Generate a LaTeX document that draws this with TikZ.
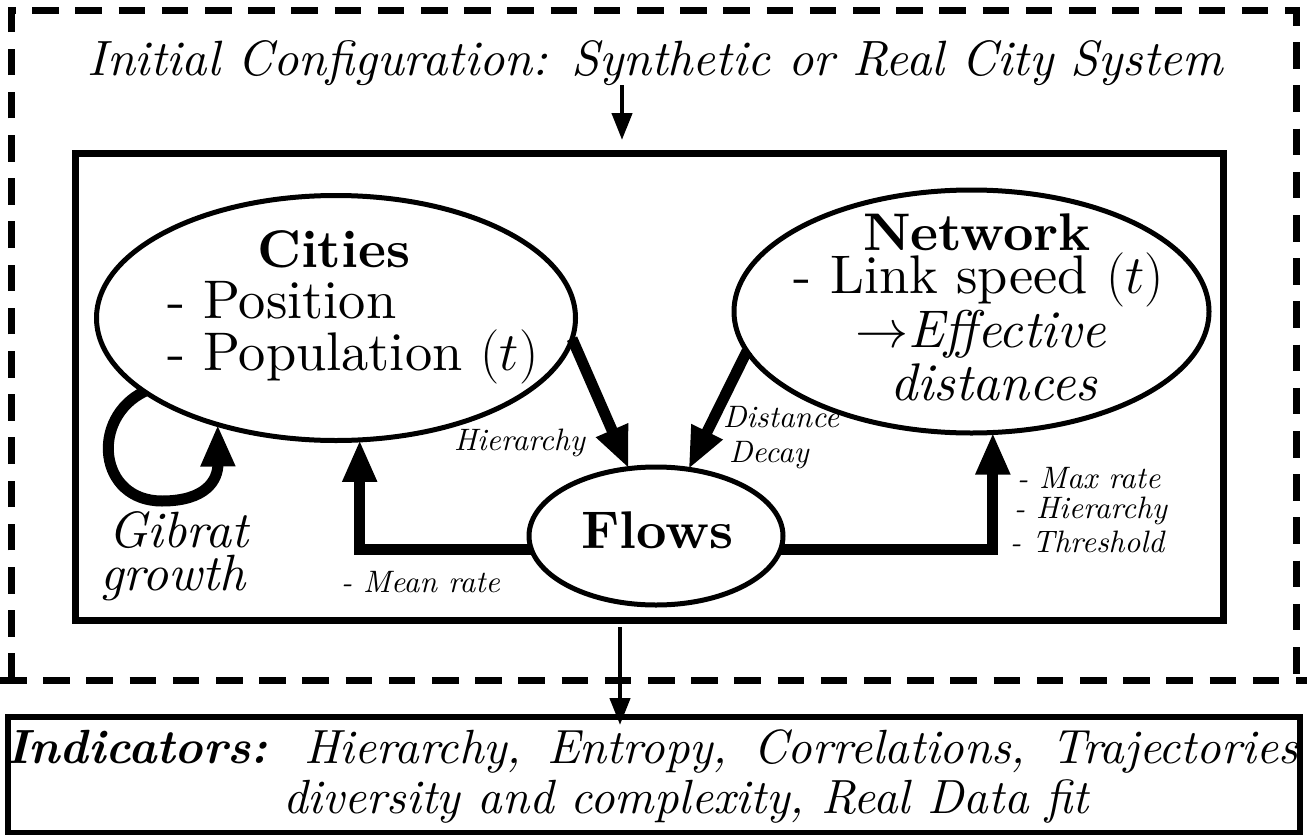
\documentclass[tikz,border=0pt]{standalone}
\usepackage{fix-cm}
\usepackage{fontspec}
\setmainfont{lmroman10}[Extension=.otf,UprightFont=*-regular,BoldFont=*-bold,ItalicFont=*-italic,BoldItalicFont=*-bolditalic]
\usetikzlibrary{arrows.meta,shapes.geometric}
\begin{document}
\begin{tikzpicture}[x=0.5pt,y=-0.5pt,
  ell/.style={ellipse,draw,line width=2.5pt,inner sep=0pt,outer sep=0pt},
  txt/.style={inner sep=0pt,outer sep=0pt,anchor=base west},
  bigtxt/.style={txt,font=\fontsize{26.5}{30}\selectfont},
  bigtxtb/.style={txt,font=\fontsize{27.2}{30}\selectfont},
  midtxt/.style={txt,font=\fontsize{25.5}{30}\selectfont\itshape},
  smalltxt/.style={txt,font=\fontsize{15.5}{18}\selectfont\itshape},
  indtxt/.style={txt,font=\fontsize{24}{30}\selectfont\itshape},
  flowarrow/.style={line width=5.5pt,-{Triangle[length=21pt,width=16pt]}},
  thinarrow/.style={line width=2.2pt,-{Triangle[length=13.5pt,width=10pt]}},
  dashline/.style={line width=3.5pt,dash pattern=on 13.3pt off 8.3pt},
  boxline/.style={draw,inner sep=0pt,outer sep=0pt}]
\useasboundingbox (0,0) rectangle (1307,835);
% outer dashed frame
\draw[dashline] (11,680) -- (11,10) -- (1296,10) -- (1296,680);
\draw[dashline] (0,680) -- (1307,680);
% title
\node[txt,anchor=base,font=\fontsize{24.8}{30}\selectfont\itshape] (title) at (655.5,75) {Initial Configuration: Synthetic or Real City System};
% inner frame
\node[boxline,line width=3.5pt,minimum width=574pt,minimum height=233.5pt] (frame) at (649,386.5) {};
% ellipses
\node[ell,minimum width=239.5pt,minimum height=122.5pt] (cities) at (336,318) {};
\node[ell,minimum width=237.5pt,minimum height=121.5pt] (network) at (971.5,311.5) {};
\node[ell,minimum width=127pt,minimum height=69pt] (flows) at (656,536) {};
% ellipse texts
\node[bigtxt] (citiesT) at (257,267) {\textbf{Cities}};
\node[bigtxtb] (pos) at (167,318) {- Position};
\node[bigtxtb] (pop) at (167,370) {- Population $(t)$};
\node[bigtxt,anchor=base] (netT) at (977,250) {\textbf{Network}};
\node[bigtxtb,anchor=base] (speed) at (979,293) {- Link speed $(t)$};
\node[bigtxt,anchor=base] (eff) at (981,347) {$\rightarrow$\textit{Effective}};
\node[bigtxt,anchor=base] (dist) at (994,400) {\textit{distances}};
\node[bigtxt,anchor=base] (flowT) at (657.5,548) {\textbf{Flows}};
% connectors
\draw[flowarrow] (cities.-5.9) -- (flows.112);
\draw[flowarrow] (network.190) -- (flows.64);
\draw[flowarrow] (flows.186.4) -| (cities.-79.8);
\draw[flowarrow] (flows.-6.4) -| (network.-80.85);
\draw[flowarrow] (cities.201) .. controls (90,418) and (98,501) .. (162,501)
  .. controls (206,501) and (218,480) .. (cities.222);
% labels
\node[smalltxt] (hier) at (454,450) {Hierarchy};
\node[smalltxt] (dd1) at (723,427) {Distance};
\node[smalltxt] (dd2) at (729,462) {Decay};
\node[smalltxt] (mr) at (1017,488) {- Max rate};
\node[smalltxt] (hr) at (1014,518) {- Hierarchy};
\node[smalltxt] (th) at (1010,552) {- Threshold};
\node[smalltxt] (mean) at (341,592) {- Mean rate};
\node[midtxt] (gib) at (108,547) {Gibrat};
\node[midtxt] (gro) at (100,590) {growth};
% indicators box
\node[boxline,line width=2.8pt,minimum width=646pt,minimum height=58pt] (ind) at (654,775) {};
\node[indtxt] (ind1) at (6,763) {\makebox[646pt][s]{\textbf{Indicators:} Hierarchy, Entropy, Correlations, Trajectories}};
\node[indtxt] (ind2) at (283,813) {diversity and complexity, Real Data fit};
% thin arrows
\coordinate (a1) at (622,0);
\coordinate (a2) at (620,0);
\draw[thinarrow,shorten >=6.5pt] (title.south -| a1) -- (frame.north -| a1);
\draw[thinarrow,shorten <=3.5pt,shorten >=-4pt] (frame.south -| a2) -- (ind.north -| a2);
\end{tikzpicture}
\end{document}
